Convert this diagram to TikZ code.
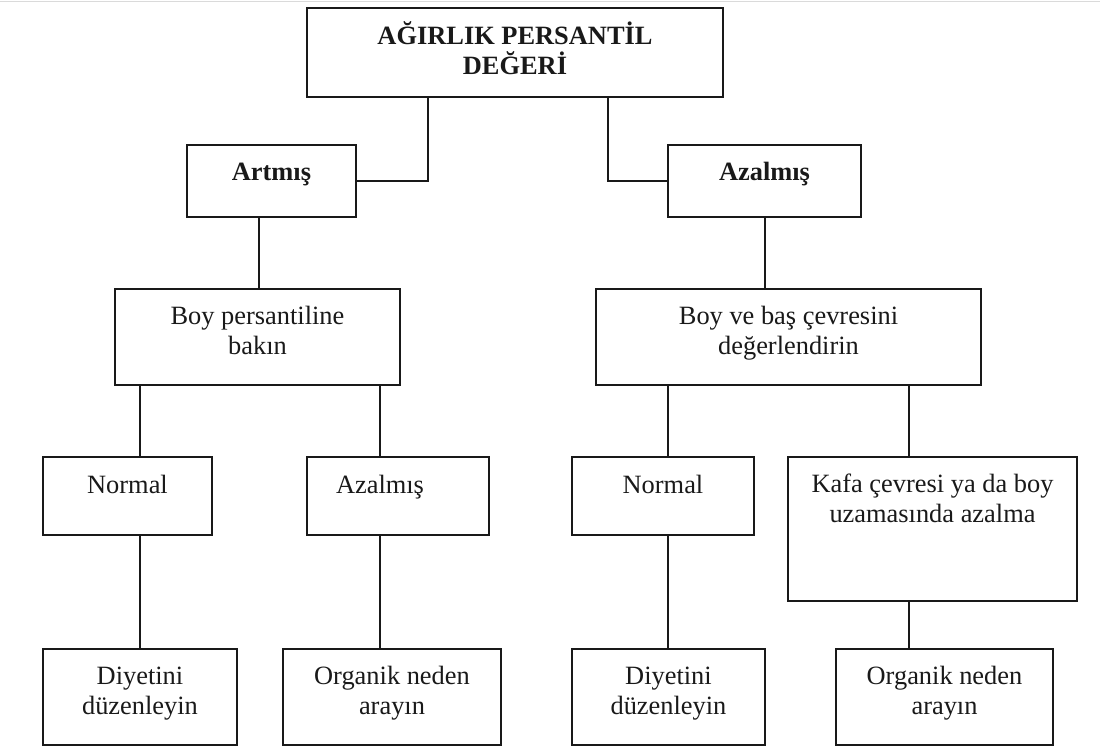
\documentclass[tikz,border=0pt]{standalone}
\usepackage{fontspec}
\setmainfont{Liberation Serif}
\definecolor{ink}{RGB}{25,25,25}
\definecolor{rulegray}{RGB}{218,218,218}
\begin{document}
\begin{tikzpicture}[x=1pt,y=-1pt,
  box/.style={draw=ink, line width=1.8pt, rectangle, inner sep=0pt, outer sep=0pt},
  lbl/.style={font=\fontsize{26.4}{29.5}\selectfont, align=center, anchor=base, inner sep=0pt, text=ink},
  boldlbl/.style={lbl, font=\fontsize{26.4}{29.5}\selectfont\bfseries},
  link/.style={draw=ink, line width=1.8pt}]
\useasboundingbox (0,0) rectangle (1100,747);
% thin rule along the top edge
\draw[draw=rulegray, line width=1.2pt] (0,1.7) -- (1100,1.7);

% boxes
\node[box, minimum width=416pt, minimum height=89pt] (top) at (515,52.5) {};
\node[box, minimum width=169pt, minimum height=72pt] (art) at (271.5,181) {};
\node[box, minimum width=193pt, minimum height=72pt] (aza) at (764.5,181) {};
\node[box, minimum width=285pt, minimum height=96pt] (boyL) at (257.5,337) {};
\node[box, minimum width=385pt, minimum height=96pt] (boyR) at (788.5,337) {};
\node[box, minimum width=169pt, minimum height=78pt] (norL) at (127.5,496) {};
\node[box, minimum width=182pt, minimum height=78pt] (azaL) at (398,496) {};
\node[box, minimum width=182pt, minimum height=78pt] (norR) at (663,496) {};
\node[box, minimum width=289pt, minimum height=144pt] (kafa) at (932.5,529) {};
\node[box, minimum width=194pt, minimum height=96pt] (diyL) at (140,697) {};
\node[box, minimum width=218pt, minimum height=96pt] (orgL) at (392,697) {};
\node[box, minimum width=193pt, minimum height=96pt] (diyR) at (668.5,697) {};
\node[box, minimum width=217pt, minimum height=96pt] (orgR) at (944.5,697) {};

% texts (base anchor sits on the last line's baseline)
\node[boldlbl] (tTop) at (515,74) {AĞIRLIK PERSANTİL\\DEĞERİ};
\node[boldlbl] (tArt) at (271.5,180) {Artmış};
\node[boldlbl] (tAza) at (764.5,180) {Azalmış};
\node[lbl] (tBoyL) at (257.5,354) {Boy persantiline\\bakın};
\node[lbl] (tBoyR) at (788.5,354) {Boy ve baş çevresini\\değerlendirin};
\node[lbl] (tNorL) at (127.5,493) {Normal};
\node[lbl] (tAzaL) at (380,493) {Azalmış};
\node[lbl] (tNorR) at (663,493) {Normal};
\node[lbl] (tKafa) at (932.5,522) {Kafa çevresi ya da boy\\uzamasında azalma};
\node[lbl] (tDiyL) at (140,714) {Diyetini\\düzenleyin};
\node[lbl] (tOrgL) at (392,714) {Organik neden\\arayın};
\node[lbl] (tDiyR) at (668.5,714) {Diyetini\\düzenleyin};
\node[lbl] (tOrgR) at (944.5,714) {Organik neden\\arayın};

% connector start points
\coordinate (cTopL) at ([xshift=-87pt]top.south);
\coordinate (cTopR) at ([xshift=93pt]top.south);
\coordinate (cArt) at ([xshift=-12.5pt]art.south);
\coordinate (cAza) at ([xshift=0.5pt]aza.south);
\coordinate (cBoyLa) at ([xshift=-117.5pt]boyL.south);
\coordinate (cBoyLb) at ([xshift=122.5pt]boyL.south);
\coordinate (cAzaL) at ([xshift=-18pt]azaL.south);
\coordinate (cBoyRa) at ([xshift=-120.5pt]boyR.south);
\coordinate (cBoyRb) at ([xshift=120.5pt]boyR.south);
\coordinate (cDiyR) at ([xshift=-0.5pt]diyR.north);
\coordinate (cKafa) at ([xshift=-23.5pt]kafa.south);

% connectors
\draw[link] (cTopL) |- (art.east);
\draw[link] (cTopR) |- (aza.west);
\draw[link] (cArt) -- (cArt |- boyL.north);
\draw[link] (cAza) -- (cAza |- boyR.north);
\draw[link] (cBoyLa) -- (cBoyLa |- norL.north);
\draw[link] (cBoyLb) -- (cBoyLb |- azaL.north);
\draw[link] (diyL.north) -- (diyL.north |- norL.south);
\draw[link] (cAzaL) -- (cAzaL |- orgL.north);
\draw[link] (cBoyRa) -- (cBoyRa |- norR.north);
\draw[link] (cBoyRb) -- (cBoyRb |- kafa.north);
\draw[link] (cDiyR) -- (cDiyR |- norR.south);
\draw[link] (cKafa) -- (cKafa |- orgR.north);
\end{tikzpicture}
\end{document}
